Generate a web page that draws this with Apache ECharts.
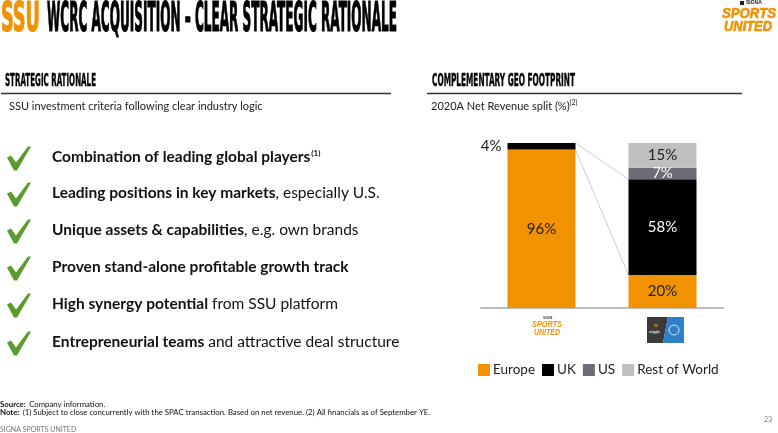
<!DOCTYPE html>
<html>
<head>
<meta charset="utf-8">
<script src="https://cdn.jsdelivr.net/npm/echarts@6/dist/echarts.min.js"></script>
<style>
html,body{margin:0;padding:0;background:#fff;}
#main{width:778px;height:433px;}
</style>
</head>
<body>
<div id="main"></div>
<script>
// ---------- DATA ----------
const categories = ['Signa Sports United', 'WCRC'];
const legendNames = ['Europe', 'UK', 'US', 'Rest of World'];
const europe = [96, 20];
const uk = [4, 58];
const us = [null, 7];
const restOfWorld = [null, 15];
const bulletBold = [
  'Combination of leading global players',
  'Leading positions in key markets',
  'Unique assets & capabilities',
  'Proven stand-alone profitable growth track',
  'High synergy potential',
  'Entrepreneurial teams'
];
const bulletRest = [
  '',
  ', especially U.S.',
  ', e.g. own brands',
  '',
  ' from SSU platform',
  ' and attractive deal structure'
];
const bulletSup = ['(1)', '', '', '', '', ''];

// ---------- HELPERS ----------
const ORANGE = '#F39200';
const cv = document.createElement('canvas').getContext('2d');
function textW(t, font) { cv.font = font; return cv.measureText(t).width; }
function fitText(t, font, x, yMid, w, fill, extra) {
  const s = w / textW(t, font);
  const el = {
    type: 'text', x: x, y: yMid, scaleX: s,
    style: { text: t, font: font, fill: fill, align: 'left', verticalAlign: 'middle' }
  };
  if (extra && extra.stroke) { el.style.stroke = fill; el.style.lineWidth = extra.stroke; }
  if (extra && extra.scaleY) el.scaleY = extra.scaleY;
  return el;
}
const headFont = '900 40px "Liberation Sans Narrow", "DejaVu Sans Condensed", "Liberation Sans"';
const secFont = '900 17px "Liberation Sans Narrow", "DejaVu Sans Condensed", "Liberation Sans"';
const logoFont = 'italic 900 14px "Liberation Sans", "DejaVu Sans"';
const bodyFamily = 'Lato, "Noto Sans", sans-serif';

const graphics = [];
// Title
graphics.push(fitText('SSU', headFont, 1, 20.5, 39, ORANGE, { stroke: 1.2 }));
graphics.push(fitText('WCRC ACQUISITION \u2013 CLEAR STRATEGIC RATIONALE', headFont, 47, 20.5, 350, '#000', { stroke: 1.2 }));
// top-right logo
graphics.push({ type: 'rect', shape: { x: 740, y: 1, width: 4, height: 4 }, style: { fill: '#222' } });
graphics.push({ type: 'text', x: 746, y: 3, style: { text: 'SIGNA', font: 'bold 5px "Liberation Sans"', fill: '#222', verticalAlign: 'middle' } });
graphics.push(fitText('SPORTS', logoFont, 722, 14, 54, ORANGE, { scaleY: 1.05, stroke: 0.6 }));
graphics.push(fitText('UNITED', logoFont, 724, 26.5, 48, ORANGE, { scaleY: 1.05, stroke: 0.6 }));
// section headers
graphics.push(fitText('STRATEGIC RATIONALE', secFont, 5, 81.5, 91, '#000', { stroke: 0.4 }));
graphics.push(fitText('COMPLEMENTARY GEO FOOTPRINT', secFont, 432, 81.5, 143, '#000', { stroke: 0.4 }));
graphics.push({ type: 'line', shape: { x1: 1, y1: 93.5, x2: 391, y2: 93.5 }, style: { stroke: '#333', lineWidth: 1.3 } });
graphics.push({ type: 'line', shape: { x1: 427, y1: 93.5, x2: 742, y2: 93.5 }, style: { stroke: '#333', lineWidth: 1.3 } });
// subtitles
graphics.push({ type: 'text', x: 9, y: 106, style: { text: 'SSU investment criteria following clear industry logic', font: '11px ' + bodyFamily, fill: '#222', verticalAlign: 'middle' } });
graphics.push({ type: 'text', x: 431, y: 106, style: {
  text: '{a|2020A Net Revenue split (%)}{s|(2)}', verticalAlign: 'middle',
  rich: { a: { fontSize: 11, fontFamily: bodyFamily, fill: '#222' }, s: { fontSize: 7, fontFamily: bodyFamily, fill: '#222', verticalAlign: 'top', padding: [0, 0, 6, 0] } }
} });
// bullets
const textYs = [157, 193, 230, 267, 304, 342];
bulletBold.forEach((b, i) => {
  const cy = textYs[i] + 1.5;
  graphics.push({ type: 'polygon', shape: { points: [
    [7, cy - 1], [11, cy - 3], [16, cy + 4], [28, cy - 12], [31, cy - 12], [17, cy + 12], [14, cy + 12]
  ] }, style: { fill: '#5B9B2B' } });
  graphics.push({ type: 'text', x: 52, y: textYs[i], style: {
    text: '{b|' + b + '}' + (bulletSup[i] ? '{s|' + bulletSup[i] + '}' : '') + (bulletRest[i] ? '{r|' + bulletRest[i] + '}' : ''),
    verticalAlign: 'middle',
    rich: {
      b: { fontSize: 15.5, fontWeight: 'bold', fontFamily: bodyFamily, fill: '#111' },
      r: { fontSize: 15.5, fontFamily: bodyFamily, fill: '#111' },
      s: { fontSize: 8, fontWeight: 'bold', fontFamily: bodyFamily, fill: '#111', padding: [0, 0, 8, 1] }
    }
  } });
});
// logos under bars
graphics.push({ type: 'text', x: 543, y: 318, style: { text: 'SIGNA', font: 'bold 3px "Liberation Sans"', fill: '#444', verticalAlign: 'middle' } });
graphics.push(fitText('SPORTS', logoFont, 532, 325, 30, ORANGE, { scaleY: 0.62 }));
graphics.push(fitText('UNITED', logoFont, 534, 333, 26, ORANGE, { scaleY: 0.62 }));
graphics.push({ type: 'polygon', shape: { points: [[647, 317], [668, 317], [663, 343], [647, 343]] }, style: { fill: '#3A3A3C' } });
graphics.push({ type: 'polygon', shape: { points: [[668, 317], [684, 317], [684, 343], [663, 343]] }, style: { fill: '#2F7FCB' } });
graphics.push({ type: 'text', x: 649, y: 332, style: { text: 'wiggle', font: '4px "Liberation Sans"', fill: '#fff', verticalAlign: 'middle' } });
graphics.push({ type: 'text', x: 654, y: 326, style: { text: 'w', font: 'bold 5px "Liberation Sans"', fill: ORANGE, verticalAlign: 'middle' } });
graphics.push({ type: 'circle', shape: { cx: 674, cy: 330, r: 5 }, style: { fill: 'none', stroke: '#fff', lineWidth: 0.8 } });
// footer
graphics.push({ type: 'text', x: 0, y: 404, style: {
  text: '{b|Source:} {r|Company information.}', verticalAlign: 'middle',
  rich: { b: { fontSize: 7.8, fontWeight: 'bold', fontFamily: bodyFamily, fill: '#111' }, r: { fontSize: 7.8, fontFamily: bodyFamily, fill: '#111' } }
} });
graphics.push({ type: 'text', x: 0, y: 412, style: {
  text: '{b|Note:} {r|(1) Subject to close concurrently with the SPAC transaction. Based on net revenue. (2) All financials as of September YE.}', verticalAlign: 'middle',
  rich: { b: { fontSize: 7.8, fontWeight: 'bold', fontFamily: bodyFamily, fill: '#111' }, r: { fontSize: 7.8, fontFamily: bodyFamily, fill: '#111' } }
} });
graphics.push({ type: 'text', x: 772, y: 420, style: { text: '23', font: '7px ' + bodyFamily, fill: '#777', align: 'right', verticalAlign: 'middle' } });
graphics.push({ type: 'text', x: 0, y: 430, style: { text: 'SIGNA SPORTS UNITED', font: '7px ' + bodyFamily, fill: '#777', verticalAlign: 'middle' } });

// ---------- CHART ----------
const chart = echarts.init(document.getElementById('main'), null, { renderer: 'canvas' });
const labelBase = { show: true, position: 'inside', fontSize: 15, fontFamily: bodyFamily, formatter: p => p.value == null ? '' : p.value + '%' };
const BW = 68;
const connectors = [
  [0, europe[0] + uk[0], 1, europe[1] + uk[1]],
  [0, europe[0], 1, europe[1]]
];
const option = {
  animation: false,
  backgroundColor: '#fff',
  grid: { left: 481, right: 55, top: 143, bottom: 125 },
  xAxis: {
    type: 'category', data: categories,
    axisLine: { lineStyle: { color: '#BDBDBD', width: 2 } },
    axisTick: { show: false }, axisLabel: { show: false }
  },
  yAxis: { type: 'value', min: 0, max: 100, show: false },
  legend: {
    data: legendNames, left: 473, top: 358, icon: 'rect',
    itemWidth: 12, itemHeight: 12, itemGap: 7,
    textStyle: { fontSize: 13.5, color: '#222', fontFamily: bodyFamily, padding: [0, 0, 0, -2] }
  },
  graphic: graphics,
  series: [
    { name: 'Europe', type: 'bar', stack: 'g', barWidth: BW, data: europe,
      itemStyle: { color: ORANGE }, label: Object.assign({}, labelBase, { color: '#222' }) },
    { name: 'UK', type: 'bar', stack: 'g', barWidth: BW,
      data: uk.map((v, i) => i === 0 ? { value: v, label: { position: 'left', distance: 6, color: '#222' } } : v),
      itemStyle: { color: '#000' }, label: Object.assign({}, labelBase, { color: '#fff' }) },
    { name: 'US', type: 'bar', stack: 'g', barWidth: BW, data: us,
      itemStyle: { color: '#6D6C76' }, label: Object.assign({}, labelBase, { color: '#fff' }) },
    { name: 'Rest of World', type: 'bar', stack: 'g', barWidth: BW, data: restOfWorld,
      itemStyle: { color: '#BFBFBF' }, label: Object.assign({}, labelBase, { color: '#222' }) },
    { name: 'connector', type: 'custom', data: connectors, encode: { x: [0, 2], y: [1, 3] }, silent: true, z: 1,
      renderItem: (params, api) => {
        const a = api.coord([api.value(0), api.value(1)]);
        const b = api.coord([api.value(2), api.value(3)]);
        return { type: 'line', shape: { x1: a[0] + BW / 2, y1: a[1], x2: b[0] - BW / 2, y2: b[1] },
          style: { stroke: '#CFCFCF', lineWidth: 1 } };
      } }
  ]
};
chart.setOption(option);
</script>
</body>
</html>
